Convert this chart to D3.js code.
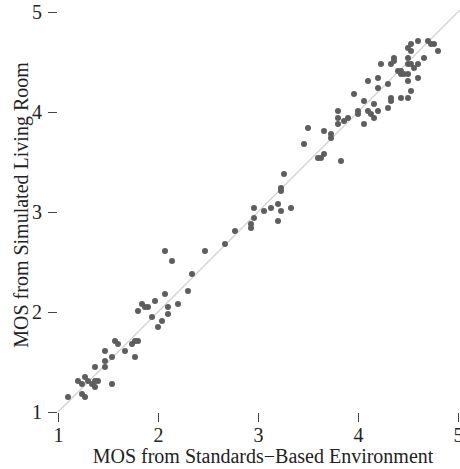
<!DOCTYPE html>
<meta charset="utf-8">
<script src="https://d3js.org/d3.v7.min.js"></script>
<style>
  body { margin: 0; background: #fff; }
  text { font-family: "Liberation Serif", "Times New Roman", serif; fill: #222; }
</style>
<body>
<svg id="chart"></svg>
</body>
<script>
// MOS pairs: standards-based environment (x) vs simulated living room (y)
var mosStandard = [
  1.10, 1.20, 1.24, 1.27, 1.30, 1.34, 1.37, 1.37, 1.40, 1.24, 1.27, 1.37, 1.47, 1.47, 1.54, 1.54,
  1.47, 1.57, 1.60, 1.67, 1.74, 1.77, 1.80, 1.77, 1.80, 1.84, 1.87, 1.90, 1.97, 1.94, 2.04, 2.00,
  2.10, 2.10, 2.20, 2.07, 2.30, 2.34, 2.07, 2.14, 2.47, 2.67, 2.77, 2.96, 3.06, 3.13, 3.20, 3.23,
  3.33, 3.20, 2.96, 2.93, 2.93, 3.23, 3.23, 3.26, 3.46, 3.50, 3.60, 3.63, 3.66, 3.83, 3.66, 3.73,
  3.73, 3.80, 3.80, 3.80, 3.86, 3.90, 3.96, 4.00, 4.00, 4.06, 4.06, 4.10, 4.10, 4.13, 4.16, 4.16,
  4.20, 4.20, 4.20, 4.23, 4.30, 4.30, 4.33, 4.33, 4.33, 4.36, 4.36, 4.40, 4.43, 4.43, 4.46, 4.50,
  4.43, 4.50, 4.50, 4.53, 4.50, 4.50, 4.53, 4.56, 4.60, 4.60, 4.66, 4.50, 4.53, 4.53, 4.60, 4.70,
  4.73, 4.76, 4.80
];
var mosLivingRoom = [
  1.15, 1.31, 1.28, 1.35, 1.31, 1.28, 1.25, 1.31, 1.31, 1.18, 1.15, 1.45, 1.45, 1.51, 1.55, 1.28,
  1.61, 1.71, 1.68, 1.61, 1.68, 1.71, 1.71, 1.55, 2.01, 2.08, 2.05, 2.05, 2.11, 1.95, 1.91, 1.85,
  2.05, 1.98, 2.08, 2.18, 2.21, 2.38, 2.61, 2.51, 2.61, 2.68, 2.81, 3.04, 3.01, 3.04, 3.08, 3.01,
  3.04, 2.91, 2.94, 2.88, 2.84, 3.24, 3.21, 3.38, 3.68, 3.84, 3.54, 3.54, 3.58, 3.51, 3.81, 3.78,
  3.74, 4.01, 3.94, 3.88, 3.91, 3.94, 4.18, 4.01, 3.98, 4.11, 3.88, 4.31, 4.01, 3.98, 3.94, 4.08,
  4.01, 4.24, 4.34, 4.48, 4.28, 4.04, 4.14, 4.11, 4.48, 4.51, 4.54, 4.41, 4.41, 4.38, 4.38, 4.38,
  4.14, 4.14, 4.31, 4.21, 4.54, 4.48, 4.48, 4.44, 4.48, 4.34, 4.54, 4.64, 4.68, 4.61, 4.71, 4.71,
  4.68, 4.68, 4.61
];
var tickValues = [1, 2, 3, 4, 5];

var width = 460, height = 469;

var x = d3.scaleLinear().domain([1, 5]).range([58, 458]);
var y = d3.scaleLinear().domain([1, 5]).range([412, 12]);

var svg = d3.select("#chart")
    .attr("width", width)
    .attr("height", height);

// identity line
svg.append("line")
    .attr("x1", x(1)).attr("y1", y(1))
    .attr("x2", x(5.02)).attr("y2", y(5.02))
    .attr("stroke", "#cfcfcf")
    .attr("stroke-width", 1.2);

var data = mosStandard.map(function(d, i) { return [d, mosLivingRoom[i]]; });

svg.selectAll("circle")
    .data(data)
  .enter().append("circle")
    .attr("cx", function(d) { return x(d[0]); })
    .attr("cy", function(d) { return y(d[1]); })
    .attr("r", 3)
    .attr("fill", "#5e5e5e");

// axes: ticks only, no domain line
var xAxis = svg.append("g")
    .attr("transform", "translate(0,413)")
    .call(d3.axisBottom(x).tickValues(tickValues).tickSize(9).tickPadding(6).tickFormat(d3.format("d")));
var yAxis = svg.append("g")
    .attr("transform", "translate(57,0)")
    .call(d3.axisLeft(y).tickValues(tickValues).tickSize(9).tickPadding(6).tickFormat(d3.format("d")));

[xAxis, yAxis].forEach(function(g) {
  g.select(".domain").remove();
  g.selectAll(".tick line").attr("stroke", "#444");
  g.selectAll(".tick text")
      .style("font-family", "'Liberation Serif', serif")
      .style("font-size", "20px")
      .attr("fill", "#222");
});

svg.append("text")
    .attr("x", 263)
    .attr("y", 463)
    .style("text-anchor", "middle")
    .style("font-size", "20px")
    .text("MOS from Standards\u2212Based Environment");

svg.append("text")
    .attr("transform", "translate(28,205) rotate(-90)")
    .style("text-anchor", "middle")
    .style("font-size", "20px")
    .text("MOS from Simulated Living Room");
</script>
